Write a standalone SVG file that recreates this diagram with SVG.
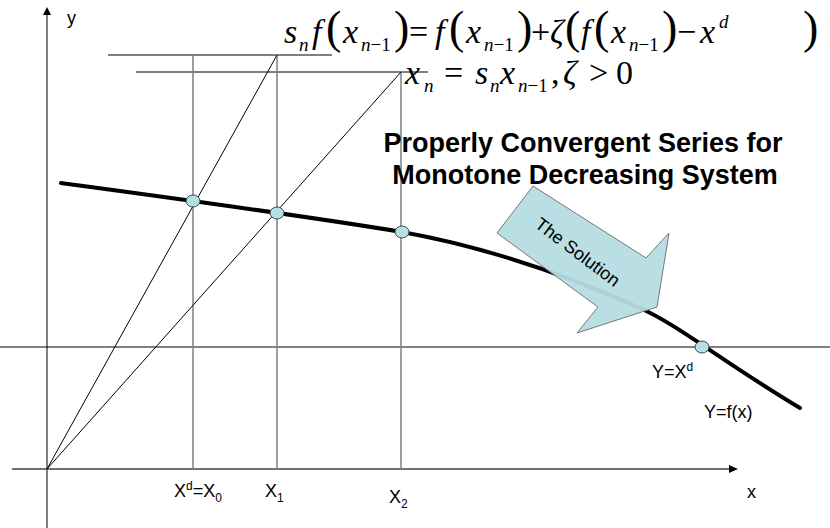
<svg xmlns="http://www.w3.org/2000/svg" width="830" height="528" viewBox="0 0 830 528">
<style>
.ax{stroke:#808080;stroke-width:2;fill:none}
.axd{stroke:#404040;stroke-width:1.5;fill:none}
.vl{stroke:#7f7f7f;stroke-width:1.5;fill:none}
.thin{stroke:#000;stroke-width:1;fill:none}
.pt{fill:#b7dee3;stroke:#2f4f4f;stroke-width:1}
.lbl{font-family:"Liberation Sans",Arial,sans-serif;font-size:18px;fill:#000}
.ttl{font-family:"Liberation Sans",Arial,sans-serif;font-size:27px;font-weight:bold;fill:#000;text-anchor:middle}
.eq{font-family:"Liberation Serif","Times New Roman",serif;font-size:34px;fill:#000}
.m{font-style:italic;font-size:34px}
.mu{font-style:normal;font-size:34px}
.p{font-style:normal;font-size:46px}
.s{font-style:italic;font-size:19px}
.su{font-style:normal;font-size:19px}
</style>
<rect width="830" height="528" fill="#fff"/>
<g id="connectors">
<line class="ax" x1="47" y1="528" x2="47" y2="12"/>
<path d="M47,7 L43,15 L51,15 z" fill="#000"/>
<line class="axd" x1="12" y1="469" x2="731" y2="469"/>
<path d="M738,469 L729,465 L729,473 z" fill="#000"/>
<line class="thin" x1="0" y1="347" x2="830" y2="347"/>
<line class="thin" x1="108" y1="55" x2="332" y2="55"/>
<line class="thin" x1="136" y1="72" x2="428" y2="72"/>
<line class="vl" x1="193" y1="55" x2="193" y2="469"/>
<line class="vl" x1="277" y1="55" x2="277" y2="469"/>
<line class="vl" x1="401" y1="72" x2="401" y2="469"/>
<line class="thin" x1="47" y1="469" x2="277" y2="55"/>
<line class="thin" x1="47" y1="469" x2="401" y2="72"/>
</g>
<g id="curve">
<path d="M61,183 C120,191 300,215 402,232 C480,246 560,272 640,308 C680,326 720,360 800,408" stroke="#000" stroke-width="4" fill="none" stroke-linecap="round"/>
</g>
<g id="solution-arrow">
<path d="M497,233 L533,186 L646,258 L669,233 L657,307 L577,333 L598,307 z" fill="#b5dde3" fill-opacity="0.95" stroke="#777" stroke-width="1"/>
<text class="lbl" font-size="18" text-anchor="middle" transform="translate(574,257) rotate(37)">The Solution</text>
</g>
<g id="points">
<ellipse id="p0" class="pt" cx="193" cy="201" rx="7" ry="6"/>
<ellipse id="p1" class="pt" cx="277" cy="213" rx="7" ry="6"/>
<ellipse id="p2" class="pt" cx="402" cy="232" rx="7" ry="6"/>
<ellipse id="p3" class="pt" cx="702" cy="347" rx="7" ry="6"/>
</g>
<g id="labels">
<text class="lbl" x="67" y="24">y</text>
<text class="lbl" x="747" y="498">x</text>
<text class="lbl" x="174" y="497">X<tspan font-size="12" dy="-7">d</tspan><tspan dy="7">=X</tspan><tspan font-size="12" dy="5">0</tspan></text>
<text class="lbl" x="265" y="497">X<tspan font-size="12" dy="5">1</tspan></text>
<text class="lbl" x="389" y="503">X<tspan font-size="12" dy="5">2</tspan></text>
<text class="lbl" x="652" y="378">Y=X<tspan font-size="12" dy="-7">d</tspan></text>
<text class="lbl" x="704" y="418">Y=f(x)</text>
</g>
<g id="title">
<text class="ttl" x="583" y="152">Properly Convergent Series for</text>
<text class="ttl" x="585" y="184">Monotone Decreasing System</text>
</g>
<g id="formula1">
<text class="eq" y="43"><tspan class="m" x="284" y="43">s</tspan><tspan class="s" x="299" y="51">n</tspan><tspan class="m" x="312" y="43">f</tspan><tspan class="p" x="326" y="43">(</tspan><tspan class="m" x="343" y="43">x</tspan><tspan class="s" x="361" y="51">n</tspan><tspan class="su">−1</tspan><tspan class="p" x="394" y="43">)</tspan><tspan class="mu" x="409" y="43">=</tspan><tspan class="m" x="435" y="43">f</tspan><tspan class="p" x="449" y="43">(</tspan><tspan class="m" x="466" y="43">x</tspan><tspan class="s" x="484" y="51">n</tspan><tspan class="su">−1</tspan><tspan class="p" x="517" y="43">)</tspan><tspan class="mu" x="531" y="43">+</tspan><tspan class="m" x="550" y="43">ζ</tspan><tspan class="p" x="565" y="43">(</tspan><tspan class="m" x="581" y="43">f</tspan><tspan class="p" x="594" y="43">(</tspan><tspan class="m" x="611" y="43">x</tspan><tspan class="s" x="629" y="51">n</tspan><tspan class="su">−1</tspan><tspan class="p" x="662" y="43">)</tspan><tspan class="mu" x="677" y="43">−</tspan><tspan class="m" x="700" y="43">x</tspan><tspan class="s" x="719" y="28">d</tspan><tspan class="p" x="803" y="43">)</tspan></text>
</g>
<g id="formula2">
<text class="eq" y="84"><tspan class="m" x="405" y="84">x</tspan><tspan class="s" x="424" y="92">n</tspan><tspan class="mu" x="444" y="84">=</tspan><tspan class="m" x="475" y="84">s</tspan><tspan class="s" x="490" y="92">n</tspan><tspan class="m" x="500" y="84">x</tspan><tspan class="s" x="518" y="92">n</tspan><tspan class="su">−1</tspan><tspan class="mu" x="551" y="84">,</tspan><tspan class="m" x="563" y="84">ζ</tspan><tspan class="mu" x="589" y="84">&gt;</tspan><tspan class="mu" x="616" y="84">0</tspan></text>
</g>
</svg>
